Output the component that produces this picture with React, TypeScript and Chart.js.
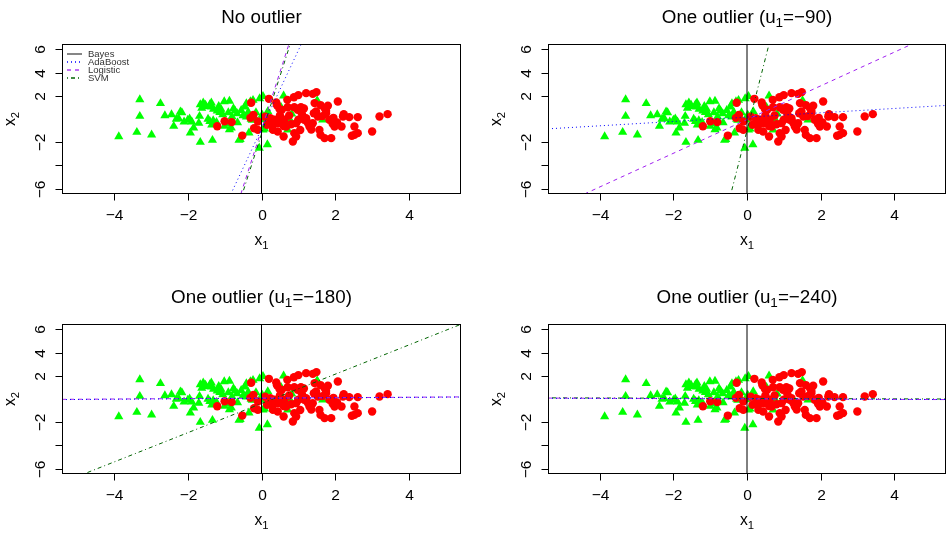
import React, { useEffect, useRef } from "react";
import { Chart, registerables } from "chart.js";
Chart.register(...registerables);

const W = 947;
const H = 533;
const X_MIN = -5.41;
const X_MAX = 5.41;
const Y_MIN = -6.47;
const Y_MAX = 6.47;
const xTicks = [-4, -2, 0, 2, 4];
const xTickLabels = ["−4", "−2", "0", "2", "4"];
const yTicks = [-6, -4, -2, 2, 4, 6];
const yTickLabels = ["−6", "", "−2", "2", "4", "6"];

const greenX = [
  -3.87, -3.38, -2.98, -3.3, -3.3, -2.74, -2.62, -2.44, -2.2, -2.16, -2.38, -2.31, -2.25, -2.0, -1.95,
  -1.89, -1.93, -1.84, -1.66, -1.68, -1.66, -1.58, -1.62, -1.55, -1.52, -1.36, -1.4, -1.37, -1.3, -1.16,
  -1.1, -1.01, -0.87, -1.45, -1.4, -1.31, -1.3, -1.22, -1.35, -1.33, -1.13, -1.05, -1.0, -0.95, -0.87,
  -0.82, -0.76, -0.72, -0.66, -0.61, -0.58, -0.55, -0.5, -0.45, -0.41, -0.41, -0.36, -0.34, -0.3, -0.23,
  -0.2, -0.15, -0.05, 0.04, -0.06, 0.02, -0.02, 0.04, 0.08, 0.17, 0.16, 0.33, 0.53, 0.6, 0.71,
  0.78, 0.82, 1.51, 1.66, -0.9, -0.8, -1.2, -0.25, -0.65, -1.7, -2.1, -0.79, -0.28, 0.75,
];
const greenY = [
  -1.51, -1.14, -1.37, 1.68, 0.24, 1.34, 0.29, 0.38, 0.62, 0.55, -0.62, 0.0, 0.06, -0.1, 0.02,
  -0.25, -1.2, -0.76, -2.0, 0.24, 1.25, 1.4, 0.95, 1.1, 1.2, 1.4, 1.25, 1.05, 0.85, 1.1,
  0.85, 1.51, 1.54, 0.0, -0.2, -0.14, -0.43, -0.29, -0.5, -1.83, 0.58, 0.38, -0.62, -0.4, -0.91,
  -0.76, 0.9, 0.7, 0.47, -1.83, -1.75, 0.75, 0.3, 1.05, 0.18, 1.33, 0.6, -1.2, 1.5, 1.62,
  0.2, 0.55, 1.77, 1.95, -2.5, 0.35, -0.05, -0.94, -0.85, 0.65, -2.2, -0.88, 1.02, 2.0, -0.94,
  -0.13, 0.45, 1.6, -0.07, 0.55, 0.2, 0.7, -0.1, -0.3, -0.35, -0.25, -0.15, 0.0, 0.0,
];
const redX = [
  -1.2, -1.0, -0.81, -0.52, -0.3, -0.28, -0.22, -0.2, -0.1, -0.1, 0.2, 0.4, 0.42, 0.49, 0.55,
  0.7, 0.71, 0.88, 1.0, 1.21, 1.39, 1.49, 0.89, 0.98, 1.07, 0.24, 0.35, 0.44, 0.53, 0.62,
  0.67, 0.31, 0.44, 0.6, 0.85, 0.89, 0.94, 0.94, 1.0, 1.16, 1.21, 1.3, 1.39, 1.42, 1.48,
  1.53, 1.57, 1.6, 1.71, 1.89, 1.71, 1.8, 1.75, 1.84, 1.93, 1.98, 2.07, 2.17, 2.21, 2.23,
  2.38, 2.52, 2.45, 2.52, 2.61, 2.61, 3.0, 3.2, 3.42, 1.44, 0.15, 0.25, 0.75, 0.8, 1.1,
  1.25, 1.35, 1.65, 1.05, 0.5, 1.95, 2.05, 0.1, 0.6, 1.15, 1.6, 1.75, 0.3,
];
const redY = [
  -0.62, -0.2, -0.27, -1.43, 0.1, 1.4, 0.35, -0.8, -0.94, -0.22, 1.74, 1.42, 1.19, 0.85, 0.79,
  1.65, 1.02, 1.88, 2.06, 2.23, 2.17, 2.32, 1.02, 0.79, 1.02, 0.07, -0.07, -0.36, -0.22, -0.07,
  -0.65, -0.94, -1.08, -1.51, -1.94, -1.22, -1.51, -0.36, -0.07, -0.07, 0.07, -0.65, -0.36, 0.5, 0.65,
  0.22, -0.94, -1.37, -1.65, -1.65, 0.94, 1.14, 0.5, -0.07, -0.42, -0.65, 1.51, -0.65, 0.22, 0.42,
  0.16, -0.65, -1.45, -1.37, -1.22, 0.16, -1.08, 0.22, 0.42, 1.37, -0.5, -0.3, 0.3, -0.45, 0.4,
  -0.3, -0.9, 0.25, -0.95, 0.3, 0.1, -0.3, 0.2, -0.6, 0.9, 1.2, 0.7, -0.5,
];

// Decision boundaries: two points [x, y] each
const bayesLine = [[0, -8], [0, 8]];
const p1Ada = [[-0.83, -6.47], [1.08, 6.47]];
const p1Log = [[-0.56, -6.47], [0.745, 6.47]];
const p1Svm = [[-0.52, -6.47], [0.78, 6.47]];
const p2Ada = [[-5.41, -0.85], [5.41, 1.17]];
const p2Log = [[-4.42, -6.47], [4.49, 6.47]];
const p2Svm = [[-0.44, -6.47], [0.6, 6.47]];
const p3Ada = [[-5.41, -0.05], [5.41, 0.17]];
const p3Log = [[-5.41, -0.03], [5.41, 0.18]];
const p3Svm = [[-4.82, -6.47], [5.43, 6.47]];
const p4Ada = [[-5.41, 0.06], [5.41, -0.04]];
const p4Log = [[-5.41, 0.08], [5.41, -0.05]];
const p4Svm = [[-5.41, 0.1], [5.41, 0.0]];

const titlePre = ["No outlier", "One outlier (u", "One outlier (u", "One outlier (u"];
const titleSub = ["", "1", "1", "1"];
const titlePost = ["", "=−90)", "=−180)", "=−240)"];

const legendLabels = ["Bayes", "AdaBoost", "Logistic", "SVM"];

const COL_BAYES = "#000000";
const COL_ADA = "#0000FF";
const COL_LOG = "#A020F0";
const COL_SVM = "#006400";
const DASH_BAYES: number[] = [];
const DASH_ADA = [1, 3];
const DASH_LOG = [4, 4];
const DASH_SVM = [1, 3, 4, 3];

const panelAreas = [
  { left: 62, top: 44, right: 461, bottom: 194 },
  { left: 548, top: 44, right: 946, bottom: 194 },
  { left: 62, top: 324, right: 461, bottom: 474 },
  { left: 548, top: 324, right: 946, bottom: 474 },
];
const panelLines = [
  [p1Ada, p1Log, p1Svm],
  [p2Ada, p2Log, p2Svm],
  [p3Ada, p3Log, p3Svm],
  [p4Ada, p4Log, p4Svm],
];

const FONT = "'Liberation Sans', Arial, Helvetica, sans-serif";

function lineDs(pts: number[][], color: string, dash: number[]) {
  return {
    data: pts.map((p) => ({ x: p[0], y: p[1] })),
    showLine: true,
    borderColor: color,
    borderWidth: 1,
    borderDash: dash,
    pointRadius: 0,
    fill: false,
    clip: 0,
  };
}

function drawSubText(ctx: CanvasRenderingContext2D, pre: string, sub: string, post: string, cx: number, baseline: number, size: number) {
  ctx.font = `${size}px ${FONT}`;
  const w1 = ctx.measureText(pre).width;
  const w3 = ctx.measureText(post).width;
  ctx.font = `${size * 0.72}px ${FONT}`;
  const w2 = ctx.measureText(sub).width;
  const total = w1 + w2 + w3;
  let x = cx - total / 2;
  ctx.textAlign = "left";
  ctx.textBaseline = "alphabetic";
  ctx.font = `${size}px ${FONT}`;
  ctx.fillText(pre, x, baseline);
  x += w1;
  ctx.font = `${size * 0.72}px ${FONT}`;
  ctx.fillText(sub, x, baseline + size * 0.25);
  x += w2;
  ctx.font = `${size}px ${FONT}`;
  ctx.fillText(post, x, baseline);
}

function makePlugin(idx: number) {
  return {
    id: "rAxes" + idx,
    afterDraw(chart: any) {
      const ctx: CanvasRenderingContext2D = chart.ctx;
      const a = chart.chartArea;
      const xs = chart.scales.x;
      const ys = chart.scales.y;
      ctx.save();
      ctx.strokeStyle = "#000";
      ctx.fillStyle = "#000";
      ctx.lineWidth = 1;
      ctx.setLineDash([]);
      const L = Math.round(a.left) + 0.5;
      const R = Math.round(a.right) - 0.5;
      const T = Math.round(a.top) + 0.5;
      const B = Math.round(a.bottom) - 0.5;
      ctx.strokeRect(L, T, R - L, B - T);
      ctx.font = `15.5px ${FONT}`;
      ctx.textAlign = "center";
      ctx.textBaseline = "alphabetic";
      xTicks.forEach((t, i) => {
        const px = Math.round(xs.getPixelForValue(t)) + 0.5;
        ctx.beginPath();
        ctx.moveTo(px, B);
        ctx.lineTo(px, B + 7);
        ctx.stroke();
        ctx.fillText(xTickLabels[i], px, a.bottom + 26);
      });
      yTicks.forEach((t, i) => {
        const py = Math.round(ys.getPixelForValue(t)) + 0.5;
        ctx.beginPath();
        ctx.moveTo(L - 7, py);
        ctx.lineTo(L, py);
        ctx.stroke();
        if (yTickLabels[i]) {
          ctx.save();
          ctx.translate(a.left - 17.5, py);
          ctx.rotate(-Math.PI / 2);
          ctx.textAlign = "center";
          ctx.textBaseline = "alphabetic";
          ctx.fillText(yTickLabels[i], 0, 0);
          ctx.restore();
        }
      });
      const cx = (a.left + a.right) / 2;
      const cy = (a.top + a.bottom) / 2;
      drawSubText(ctx, "x", "1", "", cx, a.bottom + 51, 15.7);
      ctx.save();
      ctx.translate(a.left - 47, cy);
      ctx.rotate(-Math.PI / 2);
      drawSubText(ctx, "x", "2", "", 0, 0, 15.7);
      ctx.restore();
      drawSubText(ctx, titlePre[idx], titleSub[idx], titlePost[idx], cx, a.top - 21.5, 18.8);
      if (idx === 0) {
        const cols = ["#444444", COL_ADA, COL_LOG, COL_SVM];
        const dashes = [DASH_BAYES, DASH_ADA, DASH_LOG, DASH_SVM];
        ctx.font = `9.5px ${FONT}`;
        ctx.textAlign = "left";
        ctx.textBaseline = "middle";
        legendLabels.forEach((lab, i) => {
          const y = a.top + 10 + i * 8;
          ctx.strokeStyle = cols[i];
          ctx.setLineDash(dashes[i]);
          ctx.lineWidth = 1.3;
          ctx.beginPath();
          ctx.moveTo(a.left + 5, y);
          ctx.lineTo(a.left + 20, y);
          ctx.stroke();
          ctx.fillStyle = "#333";
          ctx.fillText(lab, a.left + 26, y + 0.5);
        });
      }
      ctx.restore();
    },
  };
}

function Panel({ idx }: { idx: number }) {
  const ref = useRef<HTMLCanvasElement | null>(null);
  useEffect(() => {
    if (!ref.current) return;
    const area = panelAreas[idx];
    const lines = panelLines[idx];
    const datasets: any[] = [
      lineDs(bayesLine, COL_BAYES, DASH_BAYES),
      lineDs(lines[0], COL_ADA, DASH_ADA),
      lineDs(lines[1], COL_LOG, DASH_LOG),
      lineDs(lines[2], COL_SVM, DASH_SVM),
      {
        data: redX.map((x, i) => ({ x, y: redY[i] })),
        pointStyle: "circle",
        pointRadius: 4.2,
        pointBackgroundColor: "#FF0000",
        pointBorderWidth: 0,
        showLine: false,
      },
      {
        data: greenX.map((x, i) => ({ x, y: greenY[i] })),
        pointStyle: "triangle",
        pointRadius: 5.3,
        pointBackgroundColor: "#00FF00",
        pointBorderWidth: 0,
        showLine: false,
      },
    ];
    const chart = new Chart(ref.current, {
      type: "scatter",
      data: { datasets },
      options: {
        responsive: false,
        animation: false,
        events: [],
        layout: {
          autoPadding: false,
          padding: { left: area.left, top: area.top, right: W - area.right, bottom: H - area.bottom },
        },
        scales: {
          x: { type: "linear", min: X_MIN, max: X_MAX, display: false },
          y: { type: "linear", min: Y_MIN, max: Y_MAX, display: false },
        },
        plugins: { legend: { display: false }, tooltip: { enabled: false } },
      },
      plugins: [makePlugin(idx)],
    } as any);
    return () => chart.destroy();
  }, [idx]);
  return (
    <canvas
      ref={ref}
      width={W}
      height={H}
      style={{ position: "absolute", left: 0, top: 0, width: W, height: H }}
    />
  );
}

export default function App() {
  return (
    <div style={{ position: "fixed", left: 0, top: 0, width: W, height: H, background: "#fff" }}>
      {[0, 1, 2, 3].map((i) => (
        <Panel key={i} idx={i} />
      ))}
    </div>
  );
}
